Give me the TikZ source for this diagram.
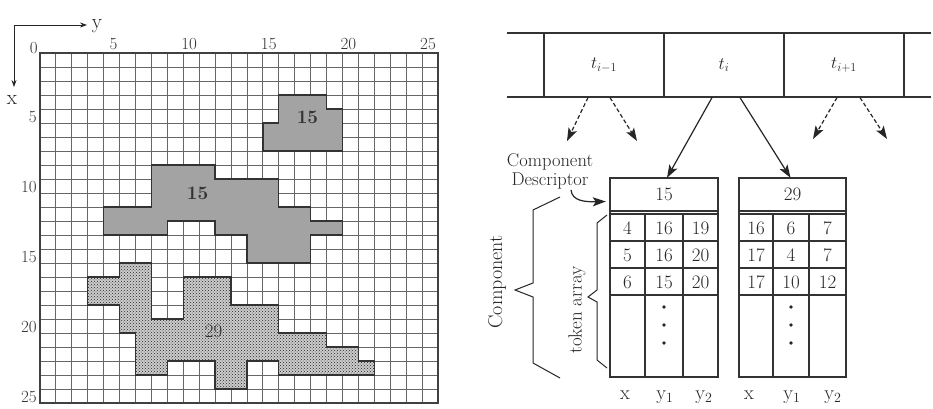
\documentclass[tikz,border=0pt]{standalone}
\usetikzlibrary{arrows.meta,patterns,calc}
\begin{document}
\begin{tikzpicture}[x=1pt,y=-1pt,
  gridline/.style={line width=0.9pt, black!60},
  gridframe/.style={line width=1.4pt, black!75},
  darkreg/.style={fill=black!36, draw=black!80, line width=1.3pt},
  lightreg/.style={fill=black!20},
  dotreg/.style={pattern=crosshatch dots, pattern color=black!85},
  regborder/.style={draw=black!80, line width=1.3pt},
  glbl/.style={font=\fontsize{17}{18}\selectfont, inner sep=0pt, text=black!80},
  txt/.style={font=\fontsize{19}{20}\selectfont, inner sep=0pt, text=black!85},
  cell/.style={draw=black!80, line width=1.2pt, minimum width=120pt, minimum height=64pt, font=\fontsize{17}{18}\selectfont, text=black!85},
  arr/.style={line width=1.2pt, draw=black!85, -{Stealth[length=13pt,width=9pt,inset=3pt]}},
  darr/.style={arr, dash pattern=on 4pt off 2.5pt},
  axarr/.style={line width=0.8pt, draw=black!85, -{Stealth[length=7pt,width=5pt]}},
  tline/.style={line width=1.2pt, draw=black!80},
  brace/.style={line width=1pt, draw=black!85, line join=miter},
]
\useasboundingbox (0,0) rectangle (933,409);
\fill[white] (0,0) rectangle (933,409);

% ---------------- axes ----------------
\coordinate (ax0) at (14,25);
\coordinate (axy) at (87,25);
\coordinate (axx) at (14,87);
\draw[axarr] (ax0) -- (axy);
\draw[axarr] (ax0) -- (axx);
\node[txt, font=\fontsize{21}{22}\selectfont] (ly) at (97,26) {y};
\node[txt, font=\fontsize{21}{22}\selectfont] (lx) at (12,100) {x};

% ---------------- grid ----------------
\begin{scope}[shift={(40,53)}, x=15.92pt, y=-14pt]
  \foreach \k in {1,...,24} {
    \draw[gridline] (\k,0) -- (\k,25);
    \draw[gridline] (0,\k) -- (25,\k);
  }
  % region 15 (top right)
  \path[darkreg] (15,3) -- (18,3) -- (18,4) -- (19,4) -- (19,7) -- (14,7) -- (14,5) -- (15,5) -- cycle;
  % region 15 (middle)
  \path[darkreg] (7,8) -- (11,8) -- (11,9) -- (15,9) -- (15,11) -- (17,11) -- (17,12) -- (19,12) -- (19,13) -- (17,13) -- (17,15) -- (13,15) -- (13,13) -- (11,13) -- (11,12) -- (8,12) -- (8,13) -- (4,13) -- (4,11) -- (7,11) -- cycle;
  % region 29 (dotted)
  \def\regC{(5,15) -- (7,15) -- (7,19) -- (9,19) -- (9,16) -- (12,16) -- (12,18) -- (15,18) -- (15,20) -- (18,20) -- (18,21) -- (20,21) -- (20,22) -- (21,22) -- (21,23) -- (15,23) -- (15,22) -- (13,22) -- (13,24) -- (11,24) -- (11,22) -- (8,22) -- (8,23) -- (6,23) -- (6,20) -- (5,20) -- (5,18) -- (3,18) -- (3,16) -- (5,16) -- cycle}
  \fill[lightreg] \regC;
  \fill[dotreg] \regC;
  \draw[regborder] \regC;
  \draw[gridframe] (0,0) rectangle (25,25);
  \node[glbl, font=\fontsize{19}{20}\selectfont\bfseries] (r15a) at (16.8,4.6) {15};
  \node[glbl, font=\fontsize{19}{20}\selectfont\bfseries] (r15b) at (9.9,10.0) {15};
  \node[glbl, font=\fontsize{19}{20}\selectfont] (r29) at (10.9,19.9) {29};
  % column labels
  \node[glbl, anchor=south east] (c0) at ($(0,0)+(-2pt,-1pt)$) {0};
  \foreach \c in {5,10,15,20,25} {
    \node[glbl, anchor=south east] (c\c) at ($(\c,0)+(-2pt,3pt)$) {\c};
  }
  % row labels
  \foreach \r in {5,10,15,20,25} {
    \node[glbl, anchor=south east] (r\r) at ($(0,\r)+(-3pt,0pt)$) {\r};
  }
\end{scope}

% ---------------- token strip ----------------
\draw[tline] (507,33) -- (931,33);
\draw[tline] (507,97) -- (931,97);
\node[cell] (tA) at (604,65) {$t_{i-1}$};
\node[cell] (tB) at (724,65) {$t_{i}$};
\node[cell] (tC) at (844,65) {$t_{i+1}$};

% ---------------- tables ----------------
% table 1
\draw[tline] (610,178) rectangle (718,377);
\draw[tline] (610,211) -- (718,211);
\draw[tline] (610,214) -- (718,214);
\foreach \yy in {241,268,295} { \draw[tline] (610,\yy) -- (718,\yy); }
\draw[tline] (645,214) -- (645,377);
\draw[tline] (683,214) -- (683,377);
\node[txt, minimum width=108pt, minimum height=33pt] (h1) at (664,194.5) {15};
% table 2
\draw[tline] (739,178) rectangle (846,377);
\draw[tline] (739,211) -- (846,211);
\draw[tline] (739,214) -- (846,214);
\foreach \yy in {241,268,295} { \draw[tline] (739,\yy) -- (846,\yy); }
\draw[tline] (773,214) -- (773,377);
\draw[tline] (809,214) -- (809,377);
\node[txt, minimum width=107pt, minimum height=33pt] (h2) at (792.5,194.5) {29};

% cell values
\node[txt] (a11) at (627.5,228) {4};
\node[txt] (a12) at (664,228) {16};
\node[txt] (a13) at (700.5,228) {19};
\node[txt] (a21) at (627.5,255) {5};
\node[txt] (a22) at (664,255) {16};
\node[txt] (a23) at (700.5,255) {20};
\node[txt] (a31) at (627.5,282) {6};
\node[txt] (a32) at (664,282) {15};
\node[txt] (a33) at (700.5,282) {20};
\node[txt] (b11) at (756,228) {16};
\node[txt] (b12) at (791,228) {6};
\node[txt] (b13) at (827.5,228) {7};
\node[txt] (b21) at (756,255) {17};
\node[txt] (b22) at (791,255) {4};
\node[txt] (b23) at (827.5,255) {7};
\node[txt] (b31) at (756,282) {17};
\node[txt] (b32) at (791,282) {10};
\node[txt] (b33) at (827.5,282) {12};
\foreach \yy in {307,325,343} {
  \fill[black!85] (664,\yy) circle (1.8pt);
  \fill[black!85] (791,\yy) circle (1.8pt);
}

% column names
\node[txt, anchor=base, font=\fontsize{20}{21}\selectfont] (n1x) at (625,399) {x};
\node[txt, anchor=base, font=\fontsize{20}{21}\selectfont] (n1y) at (665,399) {y\textsubscript{1}};
\node[txt, anchor=base, font=\fontsize{20}{21}\selectfont] (n1z) at (704,399) {y\textsubscript{2}};
\node[txt, anchor=base, font=\fontsize{20}{21}\selectfont] (n2x) at (749,399) {x};
\node[txt, anchor=base, font=\fontsize{20}{21}\selectfont] (n2y) at (792,399) {y\textsubscript{1}};
\node[txt, anchor=base, font=\fontsize{20}{21}\selectfont] (n2z) at (833,399) {y\textsubscript{2}};

% ---------------- arrows ----------------
\coordinate (d1) at (567,141);
\coordinate (d2) at (637,141);
\coordinate (d3) at (813,139);
\coordinate (d4) at (887,139);
\draw[darr] ($(tA.south)+(-16,0)$) -- (d1);
\draw[darr] ($(tA.south)+(6,0)$) -- (d2);
\draw[arr] ($(tB.south)+(-12,0)$) -- ($(h1.north)+(3,0)$);
\draw[arr] ($(tB.south)+(16,0)$) -- ($(h2.north)+(-2,0)$);
\draw[darr] ($(tC.south)+(-7,0)$) -- (d3);
\draw[darr] ($(tC.south)+(16,0)$) -- (d4);

% ---------------- labels and braces ----------------
\node[txt, align=center, font=\fontsize{18.5}{19}\selectfont] (cd) at (550,171) {Component\\Descriptor};
\draw[arr] ($(cd.south)+(21,1)$) .. controls (572,201) and (585,202) .. ($(h1.west)+(-4,7)$);
\draw[brace] (560,197) -- (533,210) -- (533,283) -- (515,290) -- (533,297) -- (533,363) -- (560,378);
\draw[brace] (607,215) -- (597,223) -- (597,290) -- (588,297) -- (597,302) -- (597,360) -- (607,368);
\node[txt, rotate=90, font=\fontsize{20}{21}\selectfont] (comp) at (497,282) {Component};
\node[txt, rotate=90, font=\fontsize{19}{20}\selectfont] (tok) at (577,310) {token array};
\end{tikzpicture}
\end{document}
